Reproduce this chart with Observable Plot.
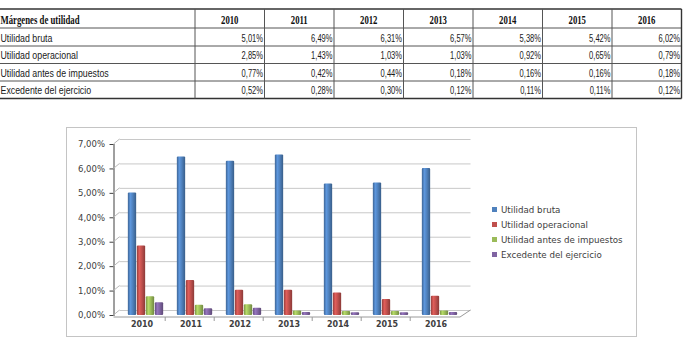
<!DOCTYPE html>
<html>
<head>
<meta charset="utf-8">
<script src="https://cdn.jsdelivr.net/npm/d3@7"></script>
<script src="https://cdn.jsdelivr.net/npm/@observablehq/plot@0.6"></script>
<style>
  html, body { margin: 0; padding: 0; background: #fff; }
  body { width: 683px; height: 352px; position: relative; overflow: hidden; font-family: "DejaVu Sans", sans-serif; }
  #table { position: absolute; left: 0; top: 0; }
  #box { position: absolute; left: 66px; top: 127px; width: 571px; height: 210px; box-sizing: border-box; border: 1px solid #c4c4c4; }
  #chart { position: absolute; left: 66px; top: 127px; }
  #legend { position: absolute; left: 492px; top: 202.5px; font: 8.7px "DejaVu Sans", sans-serif; color: #404040; }
  .item { height: 15px; line-height: 15px; white-space: nowrap; }
  .sw { display: inline-block; width: 5px; height: 5px; margin-right: 4px; vertical-align: 1px; }
</style>
</head>
<body>
<div id="table"></div>
<div id="box"></div>
<div id="chart"></div>
<div id="legend"></div>
<script>
// Márgenes de utilidad, 2010–2016 (percent)
const years = ["2010", "2011", "2012", "2013", "2014", "2015", "2016"];
const series = ["Utilidad bruta", "Utilidad operacional", "Utilidad antes de impuestos", "Excedente del ejercicio"];
const utilidadBruta          = [5.01, 6.49, 6.31, 6.57, 5.38, 5.42, 6.02];
const utilidadOperacional    = [2.85, 1.43, 1.03, 1.03, 0.92, 0.65, 0.79];
const utilidadAntesImpuestos = [0.77, 0.42, 0.44, 0.18, 0.16, 0.16, 0.18];
const excedenteEjercicio     = [0.52, 0.28, 0.30, 0.12, 0.11, 0.11, 0.12];
const yTicks = [0, 1, 2, 3, 4, 5, 6, 7];
const tableTitle = "Márgenes de utilidad";
const colors = ["#4f81bd", "#c0504d", "#9bbb59", "#8064a2"];

const seriesValues = [utilidadBruta, utilidadOperacional, utilidadAntesImpuestos, excedenteEjercicio];
const pct = v => v.toFixed(2).replace(".", ",") + "%";

// ---------- table ----------
{
  const W = 683, H = 100;
  const firstCol = 195, right = 681.5;
  const colW = (right - firstCol) / years.length;
  const rowLines = [9, 28, 46, 63.5, 81, 98.5];
  const svg = d3.select("#table").append("svg").attr("width", W).attr("height", H);

  // horizontal rules
  rowLines.forEach((y, i) => {
    const outer = i === 0 || i === rowLines.length - 1;
    svg.append("line").attr("x1", 0).attr("x2", right).attr("y1", y).attr("y2", y)
      .attr("stroke", outer ? "#333" : "#555").attr("stroke-width", outer ? 1.4 : 1);
  });
  // vertical rules
  for (let k = 0; k <= years.length; k++) {
    const x = firstCol + k * colW;
    svg.append("line").attr("x1", x).attr("x2", x).attr("y1", rowLines[0]).attr("y2", rowLines[rowLines.length - 1])
      .attr("stroke", k === years.length ? "#333" : "#555").attr("stroke-width", k === years.length ? 1.4 : 1);
  }
  // header
  svg.append("text").attr("transform", `translate(0.5,24) scale(0.7,1)`)
    .attr("font-family", "Liberation Serif").attr("font-weight", "bold").attr("font-size", 12.5)
    .attr("fill", "#111").text(tableTitle);
  years.forEach((y, k) => {
    svg.append("text").attr("transform", `translate(${firstCol + (k + 0.5) * colW},24) scale(0.7,1)`)
      .attr("text-anchor", "middle")
      .attr("font-family", "Liberation Serif").attr("font-weight", "bold").attr("font-size", 12.5)
      .attr("fill", "#111").text(y);
  });
  // body
  series.forEach((s, r) => {
    const base = rowLines[r + 2] - 4.5;
    svg.append("text").attr("transform", `translate(0.5,${base}) scale(0.84,1)`)
      .attr("font-family", "Liberation Sans").attr("font-size", 10.5).attr("fill", "#1a1a1a").text(s);
    seriesValues[r].forEach((v, k) => {
      svg.append("text").attr("transform", `translate(${firstCol + (k + 1) * colW - 1.5},${base}) scale(0.72,1)`)
        .attr("text-anchor", "end")
        .attr("font-family", "Liberation Sans").attr("font-size", 10.5).attr("fill", "#1a1a1a").text(pct(v));
    });
  });
}

// ---------- chart ----------
const W = 571, H = 210;
const mL = 47.5, mR = 166.5, mT = 17, mB = 22;
const offsets = [-13.5, -4.5, 4.5, 13.5];

const plot = Plot.plot({
  width: W, height: H,
  marginLeft: mL, marginRight: mR, marginTop: mT, marginBottom: mB,
  style: { background: "transparent", fontFamily: "DejaVu Sans", fontSize: "8.5px", color: "#404040" },
  x: { domain: years, padding: 0, insetLeft: 4.95, insetRight: 4.15, axis: null },
  y: { domain: [0, 7], ticks: yTicks, tickFormat: pct, tickSize: 4, tickPadding: 5, line: true, label: null },
  marks: [
    // back-wall gridlines
    Plot.ruleY(yTicks, { y: d => d, dy: -5, insetLeft: 6, stroke: "#c8c8c8", strokeWidth: 1 }),
    // columns
    ...seriesValues.map((vals, j) =>
      Plot.barY(years, {
        x: d => d,
        y: (d, i) => vals[i],
        dx: offsets[j],
        insetLeft: 20.35, insetRight: 20.35,
        rx: 1,
        fill: `url(#col${j})`
      })
    ),
    // category labels
    Plot.text(years, {
      x: d => d, frameAnchor: "bottom", dy: 11, dx: -4,
      text: d => d, fontWeight: "bold", fontSize: 8, fill: "#404040"
    })
  ]
});
document.getElementById("chart").appendChild(plot);

// gradients for the cylindrical column look, plus the 3D wall/floor edges
{
  const svg = d3.select(plot);
  const defs = svg.insert("defs", ":first-child");
  colors.forEach((c, j) => {
    const g = defs.append("linearGradient").attr("id", `col${j}`).attr("x1", 0).attr("x2", 1).attr("y1", 0).attr("y2", 0);
    const base = d3.color(c);
    g.append("stop").attr("offset", "0%").attr("stop-color", base.darker(0.7));
    g.append("stop").attr("offset", "30%").attr("stop-color", base.brighter(0.45));
    g.append("stop").attr("offset", "60%").attr("stop-color", base);
    g.append("stop").attr("offset", "100%").attr("stop-color", base.darker(0.9));
  });

  const sx = plot.scale("x"), sy = plot.scale("y");
  const y0 = sy.apply(0);
  const bw = sx.bandwidth;
  const deco = svg.append("g").attr("stroke", "#9a9a9a").attr("fill", "none").attr("stroke-width", 1);
  // side-wall gridline connectors
  yTicks.forEach(t => {
    const y = sy.apply(t);
    deco.append("line").attr("x1", mL).attr("y1", y).attr("x2", mL + 6).attr("y2", y - 5).attr("stroke", "#b8b8b8");
  });
  // floor front edge and right edge
  const frontRight = sx.apply(years[years.length - 1]) + bw - 4;
  deco.append("path").attr("d", `M${mL},${y0 + 2}H${frontRight}L${W - mR},${y0 - 5}`);
  // category separators
  years.slice(1).forEach(y => {
    const x = sx.apply(y) - 4.8;
    deco.append("line").attr("x1", x).attr("x2", x).attr("y1", y0 + 2).attr("y2", y0 + 6);
  });
}

// ---------- legend ----------
{
  const lg = d3.select("#legend");
  series.forEach((s, j) => {
    const it = lg.append("div").attr("class", "item");
    it.append("span").attr("class", "sw").style("background", colors[j]);
    it.append("span").text(s);
  });
}
</script>
</body>
</html>
